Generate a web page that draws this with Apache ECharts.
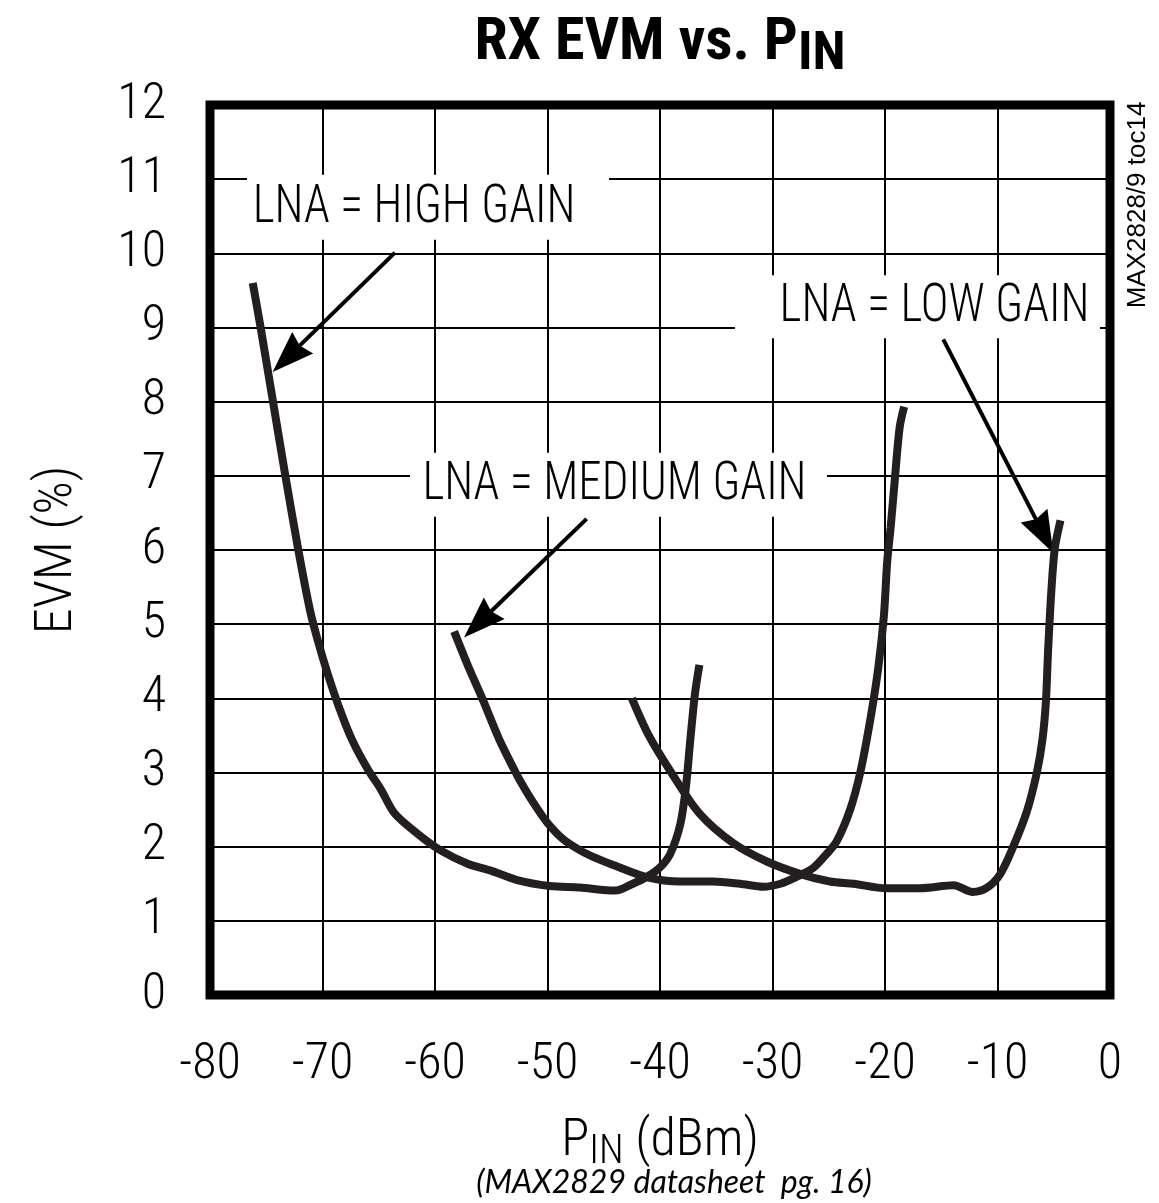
<!DOCTYPE html>
<html>
<head>
<meta charset="utf-8">
<script src="https://cdn.jsdelivr.net/npm/echarts@6/dist/echarts.min.js"></script>
<style>
html,body{margin:0;padding:0;background:#fff;}
#chart{width:1159px;height:1203px;}
</style>
</head>
<body>
<div id="chart"></div>
<script>
// ---- data ----
const highGain = [
  [-76.2, 9.60], [-75.5, 9.00], [-74.4, 8.00], [-73.3, 7.00], [-72.15, 6.00],
  [-71.1, 5.18], [-70.4, 4.77], [-69.6, 4.36], [-68.6, 3.91], [-67.4, 3.45],
  [-66.0, 3.05], [-64.8, 2.77], [-63.6, 2.45], [-61.6, 2.18], [-59.5, 1.95],
  [-57.1, 1.77], [-55.1, 1.68], [-52.7, 1.55], [-49.8, 1.47], [-47.1, 1.45],
  [-44.4, 1.41], [-43.9, 1.41], [-42.7, 1.48], [-41.2, 1.59], [-40.0, 1.72],
  [-39.1, 1.90], [-38.2, 2.30], [-37.7, 2.80], [-37.3, 3.45], [-36.9, 4.05],
  [-36.5, 4.45]
];
const mediumGain = [
  [-58.3, 4.90], [-57.1, 4.45], [-55.8, 4.00], [-54.3, 3.45], [-53.0, 3.05],
  [-52.4, 2.88], [-51.2, 2.58], [-50.0, 2.32], [-48.6, 2.10], [-47.1, 1.95],
  [-45.9, 1.86], [-44.1, 1.75], [-41.2, 1.59], [-38.2, 1.53], [-35.3, 1.53],
  [-32.9, 1.50], [-30.8, 1.46], [-29.3, 1.50], [-27.9, 1.59], [-26.4, 1.71],
  [-25.2, 1.90], [-24.3, 2.07], [-23.1, 2.50], [-22.2, 3.00], [-21.3, 3.72],
  [-20.6, 4.41], [-20.1, 5.11], [-19.8, 5.85], [-19.5, 6.30], [-19.1, 7.00],
  [-18.7, 7.65], [-18.3, 7.93]
];
const lowGain = [
  [-42.5, 4.00], [-41.0, 3.50], [-39.0, 3.00], [-36.5, 2.45], [-33.5, 2.05],
  [-30.5, 1.80], [-27.5, 1.63], [-24.9, 1.53], [-22.8, 1.50], [-19.9, 1.44],
  [-16.9, 1.44], [-13.9, 1.48], [-12.2, 1.39], [-11.0, 1.44], [-9.8, 1.62],
  [-8.6, 2.00], [-7.4, 2.47], [-6.5, 3.00], [-6.0, 3.45], [-5.7, 3.95],
  [-5.5, 4.65], [-5.2, 5.48], [-4.9, 6.03], [-4.4, 6.40]
];
const xRange = [-80, 0, 10];   // min, max, step
const yRange = [0, 12, 1];

const annotationLabels = ['LNA = HIGH GAIN', 'LNA = MEDIUM GAIN', 'LNA = LOW GAIN'];
const annotationCenters = [[-60.62, 10.62], [-43.69, 6.88], [-17.11, 9.28]];
const arrowTails = [[-63.56, 10.01], [-46.52, 6.42], [-14.82, 8.84]];
const arrowTips  = [[-74.43, 8.40], [-57.42, 4.82], [-5.04, 5.96]];

// ---- styles ----
const NARROW = '"Roboto Condensed", "DejaVu Sans Condensed", sans-serif';
const LIGHT = 300;
const CURVE = '#231f20';
const boxSizes = [[362, 65], [417, 64], [365, 63]];
const labelShift = [-14, -4, 17];

const chart = echarts.init(document.getElementById('chart'), null, {renderer: 'canvas'});

function curveSeries(name, data) {
  return {
    name, type: 'line', data, smooth: 0.3, showSymbol: false, symbol: 'none',
    lineStyle: {color: CURVE, width: 8}, z: 5, silent: true, animation: false
  };
}

const option = {
  backgroundColor: '#fff',
  animation: false,
  grid: {left: 210, right: 49, top: 105, bottom: 208, show: true,
         borderColor: '#000', borderWidth: 9, backgroundColor: 'transparent'},
  xAxis: {
    type: 'value', min: xRange[0], max: xRange[1], interval: xRange[2],
    axisLine: {show: false}, axisTick: {show: false},
    splitLine: {show: true, lineStyle: {color: '#000', width: 2}},
    axisLabel: {color: '#000', fontFamily: NARROW, fontWeight: LIGHT, fontSize: 50, margin: 45},
    name: '{a|P}{b|IN}{a| (dBm)}', nameLocation: 'middle', nameGap: 116,
    nameTextStyle: {
      rich: {
        a: {fontFamily: NARROW, fontWeight: LIGHT, fontSize: 52, color: '#000', verticalAlign: 'middle'},
        b: {fontFamily: NARROW, fontWeight: LIGHT, fontSize: 40, color: '#000', verticalAlign: 'middle', padding: [22, 0, 0, 0]}
      }
    }
  },
  yAxis: {
    type: 'value', min: yRange[0], max: yRange[1], interval: yRange[2],
    axisLine: {show: false}, axisTick: {show: false},
    splitLine: {show: true, lineStyle: {color: '#000', width: 2}},
    axisLabel: {color: '#000', fontFamily: NARROW, fontWeight: LIGHT, fontSize: 50, margin: 44},
    name: 'EVM (%)', nameLocation: 'middle', nameGap: 126, nameRotate: 90,
    nameTextStyle: {color: '#000', fontFamily: NARROW, fontWeight: LIGHT, fontSize: 52}
  },
  graphic: [
    {
      type: 'text', x: 660, y: 44, z: 10,
      style: {
        text: '{t|RX EVM vs. P}{s|IN}', align: 'center', verticalAlign: 'middle',
        rich: {
          t: {fontFamily: NARROW, fontWeight: 'bold', fontSize: 60, fill: '#000', verticalAlign: 'middle'},
          s: {fontFamily: NARROW, fontWeight: 'bold', fontSize: 54, fill: '#000', verticalAlign: 'middle', padding: [22, 0, 0, 0]}
        }
      }
    },
    {
      type: 'text', x: 1138, y: 205, rotation: Math.PI / 2, z: 10,
      style: {text: 'MAX2828/9 toc14', align: 'center', verticalAlign: 'middle',
              fontFamily: '"Liberation Sans", Arial, sans-serif', fontSize: 26, fill: '#000'}
    },
    {
      type: 'text', x: 674, y: 1183, z: 10,
      style: {text: '(MAX2829 datasheet  pg. 16)', align: 'center', verticalAlign: 'middle',
              fontFamily: 'Lato, "Open Sans", sans-serif', fontStyle: 'italic', fontSize: 32, fill: '#000'}
    }
  ],
  series: [
    curveSeries('LNA = HIGH GAIN', highGain),
    curveSeries('LNA = MEDIUM GAIN', mediumGain),
    curveSeries('LNA = LOW GAIN', lowGain),
    {
      type: 'custom', name: 'annotations', coordinateSystem: 'cartesian2d',
      silent: true, clip: false, z: 4, animation: false,
      data: annotationCenters.map((p, i) => [p[0], p[1], i]),
      encode: {x: 0, y: 1},
      renderItem(params, api) {
        const i = api.value(2);
        const c = api.coord([api.value(0), api.value(1)]);
        const tail = api.coord(arrowTails[i]);
        const tip = api.coord(arrowTips[i]);
        const dx = tip[0] - tail[0], dy = tip[1] - tail[1];
        const L = Math.hypot(dx, dy), ux = dx / L, uy = dy / L, px = -uy, py = ux;
        const headLen = 42, headW = 15;
        const base = [tip[0] - ux * headLen, tip[1] - uy * headLen];
        const notch = [tip[0] - ux * headLen * 0.9, tip[1] - uy * headLen * 0.9];
        const w = boxSizes[i][0], h = boxSizes[i][1];
        return {
          type: 'group',
          children: [
            {type: 'rect', shape: {x: c[0] - w / 2, y: c[1] - h / 2, width: w, height: h}, style: {fill: '#fff'}},
            {type: 'text', x: c[0] + labelShift[i], y: c[1] + 1, scaleX: 0.87,
              style: {text: annotationLabels[i], x: 0, y: 0, align: 'center', verticalAlign: 'middle',
                      fontFamily: NARROW, fontWeight: LIGHT, fontSize: 54, fill: '#000'}},
            {type: 'line', shape: {x1: tail[0], y1: tail[1], x2: notch[0], y2: notch[1]}, style: {stroke: '#000', lineWidth: 4}},
            {type: 'polygon', shape: {points: [tip, [base[0] + px * headW, base[1] + py * headW], notch,
              [base[0] - px * headW, base[1] - py * headW]]}, style: {fill: '#000'}}
          ]
        };
      }
    }
  ]
};
chart.setOption(option);
</script>
</body>
</html>
